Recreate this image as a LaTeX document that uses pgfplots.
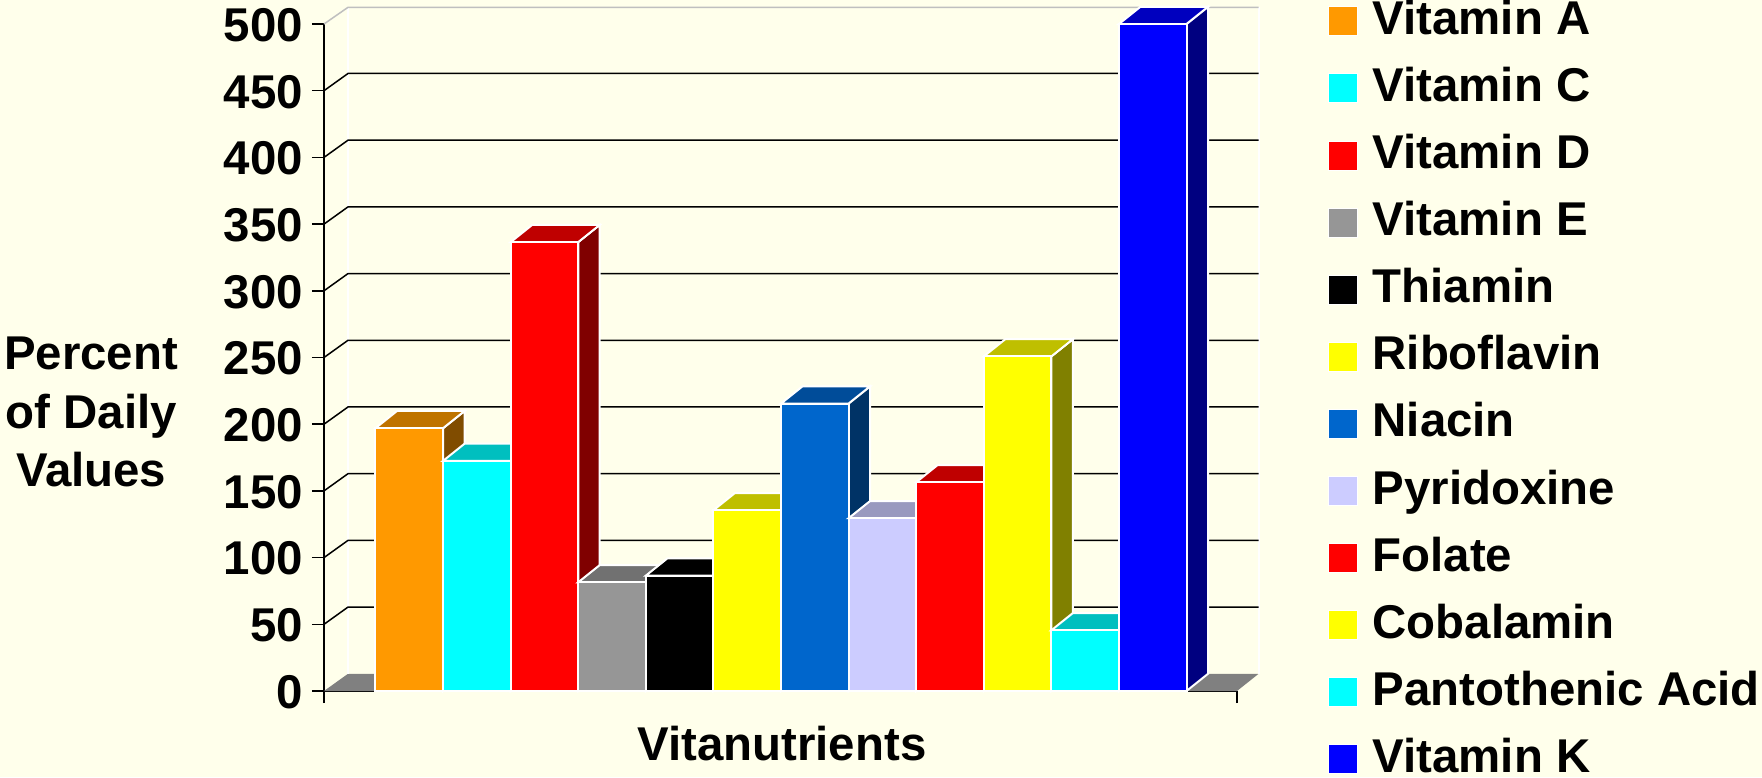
\documentclass[border=0pt]{standalone}
\usepackage{fontspec}
\setmainfont{Liberation Sans}
\usepackage{pgfplots}
\pgfplotsset{compat=1.18}
\definecolor{bg}{HTML}{FFFFEB}
\definecolor{vorange}{HTML}{FF9900}
\definecolor{vcyan}{HTML}{00FFFF}
\definecolor{vred}{HTML}{FF0000}
\definecolor{vgray}{HTML}{969696}
\definecolor{vblack}{HTML}{000000}
\definecolor{vyellow}{HTML}{FFFF00}
\definecolor{vniacin}{HTML}{0066CC}
\definecolor{vpyri}{HTML}{CCCCFF}
\definecolor{vblue}{HTML}{0000FF}
% index, value, colour, name
\newcommand{\vbar}[4]{%
  \addplot[forget plot, fill=#3!50!black, draw=white, line width=1pt] coordinates {(#1+0.5,0) (#1+0.818,12.9) (#1+0.818,#2+12.9) (#1+0.5,#2)} --cycle;
  \addplot[forget plot, fill=#3!75!black, draw=white, line width=1pt] coordinates {(#1-0.5,#2) (#1-0.182,#2+12.9) (#1+0.818,#2+12.9) (#1+0.5,#2)} --cycle;
  \addplot[fill=#3, draw=white, line width=1pt] coordinates {(#1-0.5,0) (#1-0.5,#2) (#1+0.5,#2) (#1+0.5,0)} --cycle;
  \addlegendentry{#4}%
}
\newcommand{\wallgrid}[1]{%
  \addplot[forget plot, black, line width=0.75pt] coordinates {(-1.262,#1) (-0.907,#1+12.9) (12.567,#1+12.9)};
}
\begin{document}
\begin{tikzpicture}[x=1pt,y=1pt]
\fill[bg, use as bounding box] (0,0) rectangle (881,388.5);
\begin{axis}[
  at={(162pt,43pt)}, anchor=south west,
  scale only axis, width=456.5pt, height=333.5pt,
  clip=false,
  xmin=-1.262, xmax=12.247, ymin=0, ymax=500,
  axis x line=bottom, axis y line=left,
  axis line style={-, line width=0.75pt, black},
  tick style={black, line width=0.75pt},
  major tick length=6pt,
  tick align=outside,
  ytick={0,50,...,500},
  xtick={-1.262,12.247}, xticklabels={,},
  /pgf/number format/assume math mode=true,
  ticklabel style={font=\bfseries\fontsize{23.7}{28}\selectfont},
  yticklabel style={xshift=-1pt, yshift=-0.5pt},
  xlabel={Vitanutrients},
  xlabel style={at={(axis description cs:0.5016,-0.0795)}, anchor=center, font=\bfseries\fontsize{23.7}{28}\selectfont},
  ylabel={Percent\\of Daily\\Values},
  ylabel style={rotate=-90, align=center, at={(axis description cs:-0.255,0.418)}, anchor=center, font=\bfseries\fontsize{23.7}{29.2}\selectfont},
  legend image code/.code={\path[#1, line width=0.5pt] (0pt,-6.75pt) rectangle (14.5pt,7.75pt);},
  legend cell align=left,
  legend style={at={(axis description cs:1.0997,1.0355)}, anchor=north west, draw=none, fill=none, inner sep=0pt, outer sep=0pt,
    font=\bfseries\fontsize{23.7}{28}\selectfont,
    nodes={inner sep=0pt, text height=17pt, text depth=5pt},
    row sep=11.55pt, /tikz/column 1/.style={column sep=7.3pt}},
]
% back wall
\addplot[forget plot, fill=gray!100, draw=none] coordinates {(-1.262,0) (-0.907,12.9) (12.567,12.9) (12.247,0)} --cycle;
\addplot[forget plot, white, line width=1pt] coordinates {(-0.907,12.9) (-0.907,512.9)};
\addplot[forget plot, white, line width=1pt] coordinates {(12.567,12.9) (12.567,512.9)};
\addplot[forget plot, black!25, line width=0.75pt] coordinates {(-1.262,500) (-0.907,512.5) (12.567,512.5)};
\wallgrid{50}\wallgrid{100}\wallgrid{150}\wallgrid{200}\wallgrid{250}\wallgrid{300}\wallgrid{350}\wallgrid{400}\wallgrid{450}
% bars
\vbar{0}{197}{vorange}{Vitamin A}
\vbar{1}{172.5}{vcyan}{Vitamin C}
\vbar{2}{336.5}{vred}{Vitamin D}
\vbar{3}{81.5}{vgray}{Vitamin E}
\vbar{4}{86.5}{vblack}{Thiamin}
\vbar{5}{135.5}{vyellow}{Riboflavin}
\vbar{6}{215.5}{vniacin}{Niacin}
\vbar{7}{129.5}{vpyri}{Pyridoxine}
\vbar{8}{156.5}{vred}{Folate}
\vbar{9}{250.8}{vyellow}{Cobalamin}
\vbar{10}{45.5}{vcyan}{Pantothenic Acid}
\vbar{11}{500}{vblue}{Vitamin K}
\end{axis}
\end{tikzpicture}
\end{document}
